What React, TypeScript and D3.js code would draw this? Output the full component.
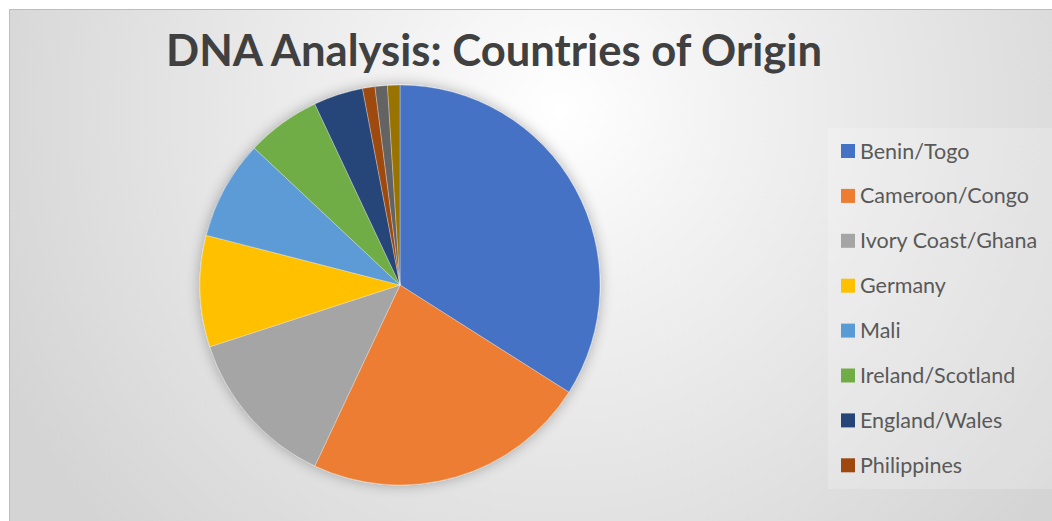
import React, { useEffect, useRef } from "react";
import { select, pie, arc, scaleOrdinal, PieArcDatum } from "d3";

// chart data
const countries = [
  "Benin/Togo",
  "Cameroon/Congo",
  "Ivory Coast/Ghana",
  "Germany",
  "Mali",
  "Ireland/Scotland",
  "England/Wales",
  "Philippines",
  "Other (9)",
  "Other (10)",
];
const shares = [34, 23, 13, 9, 8, 6, 4, 1, 1, 1];
const palette = [
  "#4472C4",
  "#ED7D31",
  "#A5A5A5",
  "#FFC000",
  "#5B9BD5",
  "#70AD47",
  "#264478",
  "#9E480E",
  "#636363",
  "#997300",
];
const legendShown = 8; // legend is cut off after Philippines

type Slice = { name: string; value: number };

const App = () => {
  const ref = useRef<SVGSVGElement>(null);

  useEffect(() => {
    if (!ref.current) return;
    const svg = select(ref.current);
    svg.selectAll("*").remove();

    const width = 1052;
    const height = 521;
    const font = "Lato, 'Open Sans', sans-serif";

    const defs = svg.append("defs");
    const grad = defs
      .append("radialGradient")
      .attr("id", "bg")
      .attr("gradientUnits", "userSpaceOnUse")
      .attr("cx", 560)
      .attr("cy", 110)
      .attr("r", 620);
    grad.append("stop").attr("offset", "0").attr("stop-color", "#ffffff");
    grad.append("stop").attr("offset", "0.25").attr("stop-color", "#f3f3f3");
    grad.append("stop").attr("offset", "1").attr("stop-color", "#d4d4d4");

    const shadow = defs
      .append("filter")
      .attr("id", "shadow")
      .attr("x", "-20%")
      .attr("y", "-20%")
      .attr("width", "140%")
      .attr("height", "140%");
    shadow
      .append("feGaussianBlur")
      .attr("in", "SourceAlpha")
      .attr("stdDeviation", 7)
      .attr("result", "blur");
    shadow
      .append("feComponentTransfer")
      .attr("in", "blur")
      .attr("result", "soft")
      .append("feFuncA")
      .attr("type", "linear")
      .attr("slope", 0.3);
    const merge = shadow.append("feMerge");
    merge.append("feMergeNode").attr("in", "soft");
    merge.append("feMergeNode").attr("in", "SourceGraphic");

    // chart area with border
    svg
      .append("rect")
      .attr("x", 9.5)
      .attr("y", 9.5)
      .attr("width", width)
      .attr("height", height)
      .attr("fill", "url(#bg)")
      .attr("stroke", "#bdbdbd")
      .attr("stroke-width", 1);

    // title
    svg
      .append("text")
      .attr("x", 494)
      .attr("y", 66)
      .attr("text-anchor", "middle")
      .attr("font-family", font)
      .attr("font-weight", "bold")
      .attr("font-size", 43)
      .attr("fill", "#404040")
      .attr("textLength", 656)
      .attr("lengthAdjust", "spacingAndGlyphs")
      .text("DNA Analysis: Countries of Origin");

    const data: Slice[] = countries.map((name, i) => ({
      name,
      value: shares[i],
    }));
    const color = scaleOrdinal<string, string>().domain(countries).range(palette);

    const pieGen = pie<Slice>()
      .sort(null)
      .value((d) => d.value);
    const arcGen = arc<PieArcDatum<Slice>>().innerRadius(0).outerRadius(200);

    const g = svg
      .append("g")
      .attr("transform", "translate(400,285)")
      .attr("filter", "url(#shadow)");

    g.selectAll("path")
      .data(pieGen(data))
      .enter()
      .append("path")
      .attr("d", arcGen)
      .attr("fill", (d) => color(d.data.name))
      .attr("stroke", "#ffffff")
      .attr("stroke-opacity", 0.5)
      .attr("stroke-width", 0.6);

    // legend
    const legend = svg.append("g");
    legend
      .append("rect")
      .attr("x", 828)
      .attr("y", 128)
      .attr("width", 230)
      .attr("height", 361)
      .attr("fill", "#ffffff")
      .attr("fill-opacity", 0.2);

    const items = legend
      .selectAll(".item")
      .data(data.slice(0, legendShown))
      .enter()
      .append("g")
      .attr("class", "item")
      .attr("transform", (_d, i) => `translate(841,${151 + i * 44.9})`);

    items
      .append("rect")
      .attr("x", 0)
      .attr("y", -7)
      .attr("width", 14)
      .attr("height", 14)
      .attr("fill", (d) => color(d.name));

    items
      .append("text")
      .attr("x", 19)
      .attr("y", 0)
      .attr("dy", "0.35em")
      .attr("font-family", font)
      .attr("font-size", 21.5)
      .attr("fill", "#595959")
      .text((d) => d.name);
  }, []);

  return (
    <svg
      ref={ref}
      width={1052}
      height={521}
      style={{ position: "absolute", left: 0, top: 0, display: "block" }}
    ></svg>
  );
};

export default App;
